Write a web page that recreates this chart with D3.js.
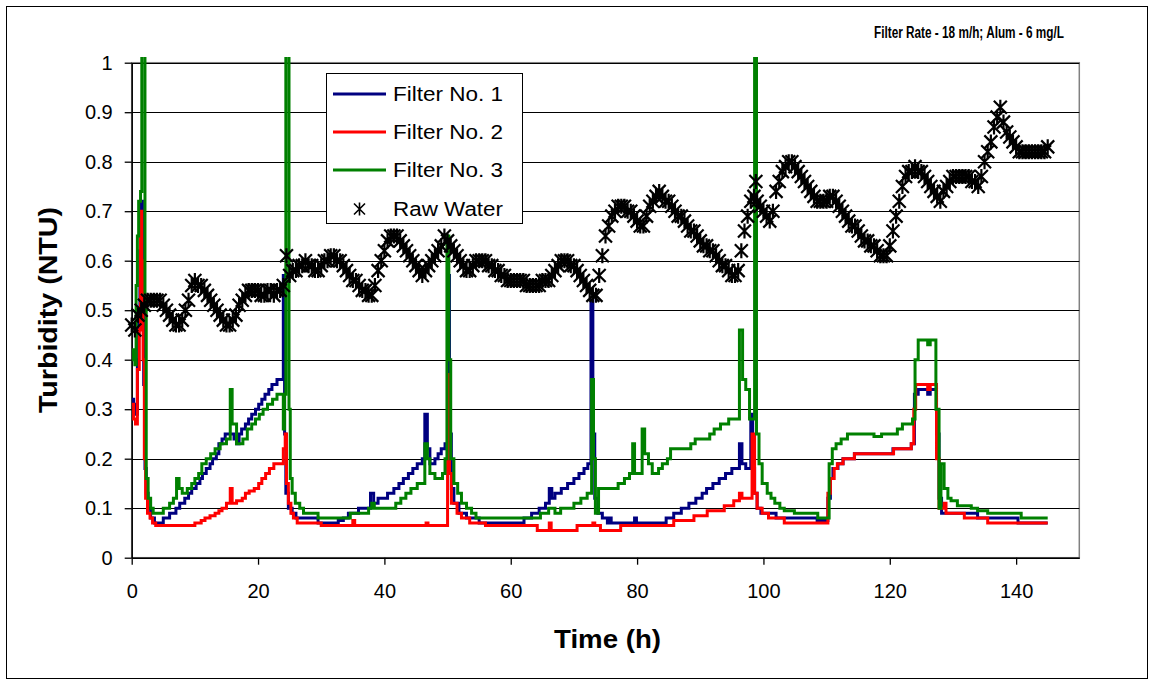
<!DOCTYPE html>
<html><head><meta charset="utf-8">
<script src="https://cdn.jsdelivr.net/npm/d3@7"></script>
<style>body{margin:0;background:#fff}svg{display:block}text{font-family:Arial,"Liberation Sans",sans-serif}</style>
</head><body><svg id="c" width="1154" height="682"></svg>
<script>
const titleText = "Filter Rate - 18 m/h; Alum - 6 mg/L";
const xLabel = "Time (h)";
const yLabel = "Turbidity (NTU)";
const seriesNames = ["Filter No. 1","Filter No. 2","Filter No. 3","Raw Water"];
const xTicks = [0,20,40,60,80,100,120,140];
const yTicks = [0,0.1,0.2,0.3,0.4,0.5,0.6,0.7,0.8,0.9,1];

const filter1 = [[0,0.32],[0.3,0.31],[0.6,0.29],[0.9,0.40],[1.1,0.50],[1.3,0.62],[1.5,0.72],[1.7,0.60],[1.9,0.35],[2.1,0.18],[2.3,0.13],[2.6,0.10],[3.0,0.08],[3.6,0.07],[5.0,0.08],[6.0,0.09],[7.0,0.10],[7.6,0.11],[8.4,0.12],[9.0,0.13],[9.5,0.14],[10.2,0.15],[10.8,0.16],[11.2,0.17],[11.8,0.18],[12.4,0.19],[12.8,0.20],[13.4,0.21],[13.8,0.23],[14.3,0.24],[14.8,0.25],[16.2,0.24],[16.6,0.23],[17.0,0.25],[17.4,0.26],[18.0,0.27],[18.5,0.28],[19.0,0.29],[19.6,0.30],[20.1,0.31],[20.6,0.32],[21.1,0.33],[21.7,0.34],[22.2,0.35],[23.0,0.36],[24.0,0.57],[24.2,0.25],[24.4,0.13],[24.8,0.10],[25.4,0.09],[26.0,0.08],[29.5,0.07],[32.7,0.075],[33.5,0.08],[34.3,0.09],[35.9,0.10],[37.8,0.13],[38.3,0.11],[39.0,0.12],[40.5,0.13],[41.5,0.14],[42.3,0.15],[43.0,0.16],[43.8,0.17],[44.5,0.18],[45.2,0.19],[46.0,0.20],[46.4,0.29],[46.8,0.22],[47.2,0.19],[48.0,0.20],[48.5,0.21],[49.0,0.22],[49.6,0.23],[50.0,0.57],[50.3,0.25],[50.6,0.14],[51.0,0.11],[51.8,0.09],[53.0,0.08],[55.0,0.07],[62.1,0.08],[63.3,0.09],[64.5,0.10],[65.5,0.11],[66.1,0.14],[66.5,0.12],[67.0,0.13],[68.0,0.14],[69.0,0.15],[70.0,0.16],[70.8,0.17],[71.6,0.18],[72.2,0.19],[72.7,0.52],[73.0,0.25],[73.3,0.12],[73.8,0.09],[74.5,0.08],[75.3,0.07],[75.6,0.08],[75.9,0.07],[79.6,0.08],[79.9,0.07],[84.6,0.08],[85.8,0.09],[87.0,0.10],[88.2,0.11],[89.3,0.12],[90.3,0.13],[91.0,0.14],[92.0,0.15],[93.0,0.16],[94.0,0.17],[95.0,0.18],[96.2,0.23],[96.6,0.19],[97.2,0.18],[98.0,0.29],[98.3,0.18],[98.6,0.13],[99.0,0.10],[99.6,0.09],[102.0,0.08],[108.5,0.075],[110.2,0.12],[110.6,0.16],[111.0,0.18],[111.8,0.19],[112.6,0.20],[114.4,0.21],[120.5,0.22],[123.4,0.23],[123.9,0.33],[124.5,0.34],[126.0,0.33],[126.4,0.34],[127.4,0.25],[127.8,0.12],[128.2,0.09],[133.9,0.08],[140.3,0.07],[145.0,0.07]];

const filter2 = [[0,0.31],[0.3,0.28],[0.6,0.27],[0.9,0.38],[1.2,0.46],[1.4,0.70],[1.6,0.60],[1.8,0.40],[2.0,0.20],[2.2,0.12],[2.5,0.09],[2.9,0.08],[3.3,0.07],[3.8,0.065],[10.0,0.07],[11.0,0.075],[11.6,0.08],[12.4,0.085],[13.2,0.09],[13.8,0.095],[14.3,0.10],[15.0,0.11],[15.6,0.14],[15.9,0.11],[16.6,0.115],[17.5,0.12],[18.0,0.13],[18.6,0.135],[19.4,0.14],[20.1,0.15],[20.6,0.16],[21.2,0.17],[21.8,0.18],[22.5,0.19],[24.0,0.22],[24.3,0.25],[24.5,0.15],[24.8,0.11],[25.2,0.09],[25.6,0.08],[26.2,0.07],[30.0,0.065],[35.0,0.075],[35.3,0.065],[46.6,0.07],[46.9,0.065],[50.0,0.37],[50.3,0.17],[50.6,0.11],[51.5,0.09],[52.2,0.08],[53.5,0.07],[56.0,0.065],[64.2,0.055],[66.1,0.07],[66.4,0.055],[70.5,0.065],[73.0,0.07],[73.3,0.065],[74.2,0.055],[77.4,0.065],[85.8,0.075],[89.0,0.085],[91.1,0.095],[93.8,0.105],[95.3,0.115],[96.2,0.13],[96.6,0.12],[98.2,0.25],[98.6,0.13],[99.0,0.10],[99.8,0.09],[100.8,0.08],[103.3,0.07],[110.2,0.13],[110.6,0.16],[111.2,0.18],[111.7,0.19],[112.6,0.20],[114.4,0.21],[120.6,0.22],[123.4,0.23],[123.8,0.30],[124.1,0.35],[126.0,0.34],[126.4,0.35],[127.4,0.20],[127.8,0.10],[128.6,0.11],[128.9,0.09],[131.8,0.08],[135.5,0.07],[145.0,0.07]];

const filter3 = [[0,0.42],[0.3,0.40],[0.5,0.39],[0.7,0.55],[0.9,0.65],[1.1,0.72],[1.4,0.74],[1.6,1.2],[2.1,0.50],[2.3,0.16],[2.6,0.12],[3.0,0.10],[3.4,0.09],[5.0,0.10],[6.0,0.11],[6.6,0.12],[7.1,0.16],[7.5,0.14],[8.0,0.13],[8.8,0.14],[9.5,0.15],[10.0,0.16],[10.6,0.17],[11.1,0.19],[11.8,0.20],[12.5,0.21],[13.2,0.22],[14.0,0.23],[15.0,0.24],[15.6,0.34],[15.9,0.27],[16.6,0.23],[17.6,0.24],[18.3,0.26],[19.0,0.27],[19.6,0.28],[20.2,0.29],[20.8,0.30],[21.5,0.31],[22.3,0.32],[23.0,0.33],[24.0,0.26],[24.2,0.33],[24.4,1.2],[24.9,0.30],[25.1,0.16],[25.4,0.13],[25.9,0.11],[26.6,0.10],[27.2,0.09],[29.5,0.08],[34.6,0.09],[37.5,0.10],[38.0,0.11],[38.4,0.10],[41.8,0.11],[42.6,0.12],[43.4,0.13],[44.2,0.14],[45.2,0.15],[46.4,0.23],[46.8,0.20],[47.2,0.17],[48.0,0.16],[49.2,0.17],[49.6,0.20],[49.9,0.65],[50.2,0.40],[50.5,0.20],[51.0,0.15],[51.6,0.13],[52.2,0.11],[53.0,0.10],[53.8,0.09],[54.5,0.08],[64.7,0.09],[66.0,0.10],[67.0,0.09],[67.9,0.10],[70.0,0.11],[71.1,0.12],[72.1,0.13],[72.8,0.36],[73.1,0.20],[73.4,0.09],[73.9,0.14],[77.0,0.15],[78.0,0.16],[78.8,0.17],[79.3,0.23],[79.6,0.17],[80.8,0.26],[81.2,0.21],[81.8,0.19],[82.4,0.17],[83.4,0.18],[84.0,0.19],[84.8,0.20],[85.3,0.22],[88.5,0.23],[89.2,0.24],[91.5,0.25],[92.2,0.26],[93.2,0.27],[94.5,0.28],[96.2,0.46],[96.7,0.36],[97.2,0.34],[97.8,0.28],[98.6,1.2],[98.9,0.25],[99.3,0.19],[99.8,0.15],[100.6,0.13],[101.2,0.12],[101.8,0.11],[102.6,0.10],[103.3,0.095],[104.9,0.09],[108.6,0.08],[110.4,0.19],[110.9,0.22],[111.5,0.23],[112.3,0.24],[113.3,0.25],[117.5,0.245],[118.7,0.25],[121.2,0.26],[122.0,0.27],[123.6,0.28],[124.0,0.40],[124.5,0.44],[126.0,0.43],[126.4,0.44],[127.3,0.30],[127.8,0.10],[128.1,0.19],[128.6,0.14],[129.2,0.12],[129.7,0.115],[130.7,0.105],[132.9,0.10],[133.9,0.095],[135.5,0.09],[140.8,0.08],[145.0,0.08]];

const rawWater = [[0,0.47],[0.5,0.46],[1,0.49],[1.5,0.50],[2,0.51],[2.5,0.52],[3,0.52],[3.5,0.52],[4,0.52],[4.5,0.52],[5,0.51],[5.5,0.50],[6,0.49],[6.5,0.48],[7,0.47],[7.5,0.47],[8,0.48],[8.5,0.50],[9,0.52],[9.5,0.55],[10,0.56],[10.5,0.55],[11,0.55],[11.5,0.54],[12,0.53],[12.5,0.52],[13,0.51],[13.5,0.50],[14,0.49],[14.5,0.48],[15,0.47],[15.5,0.47],[16,0.48],[16.5,0.49],[17,0.51],[17.5,0.52],[18,0.53],[18.5,0.54],[19,0.54],[19.5,0.54],[20,0.54],[20.5,0.53],[21,0.53],[21.5,0.54],[22,0.54],[22.5,0.53],[23,0.54],[23.5,0.54],[24,0.55],[24.5,0.61],[25,0.57],[25.5,0.58],[26,0.58],[26.5,0.59],[27,0.59],[27.5,0.60],[28,0.59],[28.5,0.59],[29,0.58],[29.5,0.58],[30,0.59],[30.5,0.60],[31,0.60],[31.5,0.61],[32,0.61],[32.5,0.60],[33,0.60],[33.5,0.59],[34,0.58],[34.5,0.57],[35,0.56],[35.5,0.56],[36,0.55],[36.5,0.54],[37,0.54],[37.5,0.53],[38,0.53],[38.5,0.55],[39,0.58],[39.5,0.60],[40,0.62],[40.5,0.64],[41,0.65],[41.5,0.65],[42,0.65],[42.5,0.64],[43,0.63],[43.5,0.62],[44,0.61],[44.5,0.60],[45,0.59],[45.5,0.58],[46,0.57],[46.5,0.58],[47,0.59],[47.5,0.60],[48,0.61],[48.5,0.62],[49,0.63],[49.5,0.65],[50,0.64],[50.5,0.63],[51,0.62],[51.5,0.61],[52,0.60],[52.5,0.59],[53,0.58],[53.5,0.58],[54,0.59],[54.5,0.60],[55,0.60],[55.5,0.60],[56,0.60],[56.5,0.59],[57,0.59],[57.5,0.58],[58,0.58],[58.5,0.57],[59,0.57],[59.5,0.56],[60,0.56],[60.5,0.56],[61,0.56],[61.5,0.56],[62,0.56],[62.5,0.55],[63,0.55],[63.5,0.55],[64,0.55],[64.5,0.55],[65,0.56],[65.5,0.56],[66,0.56],[66.5,0.57],[67,0.58],[67.5,0.59],[68,0.60],[68.5,0.60],[69,0.60],[69.5,0.59],[70,0.59],[70.5,0.58],[71,0.57],[71.5,0.56],[72,0.55],[72.5,0.54],[73,0.53],[73.5,0.53],[74,0.57],[74.5,0.61],[75,0.65],[75.5,0.67],[76,0.69],[76.5,0.70],[77,0.71],[77.5,0.71],[78,0.71],[78.5,0.70],[79,0.70],[79.5,0.69],[80,0.68],[80.5,0.67],[81,0.67],[81.5,0.69],[82,0.71],[82.5,0.72],[83,0.73],[83.5,0.74],[84,0.73],[84.5,0.72],[85,0.72],[85.5,0.71],[86,0.70],[86.5,0.69],[87,0.69],[87.5,0.68],[88,0.67],[88.5,0.66],[89,0.66],[89.5,0.65],[90,0.64],[90.5,0.63],[91,0.63],[91.5,0.62],[92,0.62],[92.5,0.61],[93,0.60],[93.5,0.59],[94,0.59],[94.5,0.58],[95,0.57],[95.5,0.57],[96,0.58],[96.5,0.62],[97,0.66],[97.5,0.69],[98,0.72],[98.5,0.73],[98.8,0.76],[99,0.72],[99.5,0.71],[100,0.70],[100.5,0.69],[101,0.68],[101.5,0.70],[102,0.74],[102.5,0.76],[103,0.78],[103.5,0.79],[104,0.80],[104.5,0.80],[105,0.79],[105.5,0.78],[106,0.77],[106.5,0.76],[107,0.75],[107.5,0.74],[108,0.73],[108.5,0.72],[109,0.72],[109.5,0.72],[110,0.72],[110.5,0.73],[111,0.73],[111.5,0.72],[112,0.71],[112.5,0.70],[113,0.69],[113.5,0.68],[114,0.67],[114.5,0.67],[115,0.66],[115.5,0.65],[116,0.64],[116.5,0.64],[117,0.63],[117.5,0.63],[118,0.62],[118.5,0.61],[119,0.61],[119.5,0.61],[120,0.63],[120.5,0.66],[121,0.69],[121.5,0.72],[122,0.75],[122.5,0.77],[123,0.78],[123.5,0.78],[124,0.79],[124.5,0.78],[125,0.78],[125.5,0.77],[126,0.76],[126.5,0.75],[127,0.74],[127.5,0.73],[128,0.72],[128.5,0.74],[129,0.75],[129.5,0.76],[130,0.77],[130.5,0.77],[131,0.77],[131.5,0.77],[132,0.77],[132.5,0.77],[133,0.76],[133.5,0.76],[134,0.75],[134.5,0.77],[135,0.80],[135.5,0.82],[136,0.84],[136.5,0.87],[137,0.89],[137.5,0.91],[138,0.88],[138.5,0.86],[139,0.85],[139.5,0.84],[140,0.83],[140.5,0.82],[141,0.82],[141.5,0.82],[142,0.82],[142.5,0.82],[143,0.82],[143.5,0.82],[144,0.82],[144.5,0.82],[145,0.83]];

const seriesColors = ["#000080","#ff0000","#008000","#000000"];

const svg = d3.select("#c");
const L = 131.7, R = 1079.3, T = 62.7, B = 557.7;
const x = d3.scaleLinear().domain([0,150]).range([L,R]);
const y = d3.scaleLinear().domain([0,1]).range([B,T]);

svg.append("rect").attr("x",6.5).attr("y",6.5).attr("width",1141).attr("height",672)
  .attr("fill","#fff").attr("stroke","#000").attr("stroke-width",1);

svg.append("rect").attr("x",L).attr("y",T).attr("width",R-L).attr("height",B-T)
  .attr("fill","#fff").attr("stroke","#808080").attr("stroke-width",1.5);

svg.append("g").selectAll("line").data(yTicks.filter(d=>d>0)).join("line")
  .attr("x1",L).attr("x2",R).attr("y1",d=>Math.round(y(d))+0.5).attr("y2",d=>Math.round(y(d))+0.5)
  .attr("stroke","#000").attr("stroke-width",1);

const xAxis = d3.axisBottom(x).tickValues(xTicks).tickSizeInner(7).tickSizeOuter(0).tickPadding(19).tickFormat(d3.format("d"));
const gx = svg.append("g").attr("transform",`translate(0,${B})`).call(xAxis);
const yAxis = d3.axisLeft(y).tickValues(yTicks).tickSizeInner(7).tickSizeOuter(0).tickPadding(12).tickFormat(d=>d===0?"0":d===1?"1":d3.format(".1f")(d));
const gy = svg.append("g").attr("transform",`translate(${L},0)`).call(yAxis);
[gx,gy].forEach(g=>{
  g.selectAll("text").attr("font-size",20).attr("font-family","Arial, 'Liberation Sans', sans-serif").attr("fill","#000");
  g.selectAll("line").attr("stroke","#000").attr("stroke-width",1.3);
  g.select(".domain").attr("stroke","#000").attr("stroke-width",1.5);
});

svg.append("clipPath").attr("id","clip").append("rect").attr("x",L).attr("y",57).attr("width",R-L).attr("height",B-57);

const line = d3.line().x(d=>x(d[0])).y(d=>y(d[1])).curve(d3.curveStepAfter);
const plot = svg.append("g").attr("clip-path","url(#clip)");
[filter1,filter2,filter3].forEach((s,i)=>{
  plot.append("path").datum(s).attr("d",line).attr("fill","none")
    .attr("stroke",seriesColors[i]).attr("stroke-width",3).attr("stroke-linejoin","miter");
});

const star = "M-6.5,-6.5L6.5,6.5M-6.5,6.5L6.5,-6.5M0,-7.5L0,7.5";
svg.append("g").selectAll("path").data(rawWater).join("path")
  .attr("transform",d=>`translate(${x(d[0])},${y(d[1])})`)
  .attr("d",star).attr("fill","none").attr("stroke","#000").attr("stroke-width",2.2);

const lg = svg.append("g");
lg.append("rect").attr("x",326.5).attr("y",73.5).attr("width",196).attr("height",150)
  .attr("fill","#fff").attr("stroke","#000").attr("stroke-width",1);
const ly = [94,132,170,209];
const legendStar = "M-5.5,-5.5L5.5,5.5M-5.5,5.5L5.5,-5.5M0,-6.5L0,6.5";
seriesNames.forEach((n,i)=>{
  if(i<3){
    lg.append("line").attr("x1",333).attr("x2",386).attr("y1",ly[i]).attr("y2",ly[i])
      .attr("stroke",seriesColors[i]).attr("stroke-width",3);
  } else {
    lg.append("path").attr("transform",`translate(359.5,${ly[i]})`).attr("d",legendStar)
      .attr("fill","none").attr("stroke","#000").attr("stroke-width",1.6);
  }
  lg.append("text").attr("x",393).attr("y",ly[i]).attr("dy","0.35em").attr("font-size",20)
    .attr("textLength",110).attr("lengthAdjust","spacingAndGlyphs").text(n);
});

svg.append("text").attr("x",1064).attr("y",38).attr("text-anchor","end").attr("font-size",16)
  .attr("font-weight","bold").attr("textLength",190).attr("lengthAdjust","spacingAndGlyphs").text(titleText);
svg.append("text").attr("x",554).attr("y",648).attr("font-size",26).attr("font-weight","bold")
  .attr("textLength",107).attr("lengthAdjust","spacingAndGlyphs").text(xLabel);
svg.append("text").attr("transform","translate(57,413) rotate(-90)").attr("font-size",25).attr("font-weight","bold")
  .attr("textLength",206).attr("lengthAdjust","spacingAndGlyphs").text(yLabel);
</script></body></html>
